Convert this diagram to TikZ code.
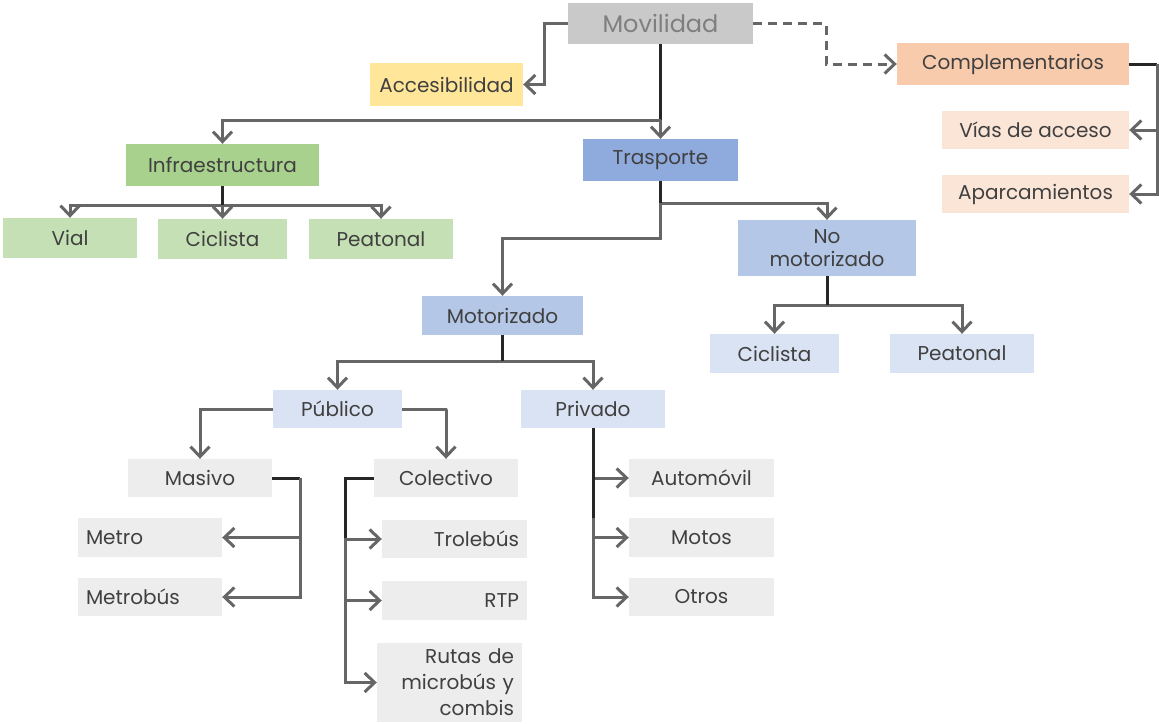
\documentclass[tikz,border=0pt]{standalone}
\usepackage{fontspec}
\setmainfont{Poppins}
\usetikzlibrary{arrows.meta}

\definecolor{movfill}{HTML}{C9C9C9}
\definecolor{movtext}{HTML}{7F7F7F}
\definecolor{accfill}{HTML}{FFE699}
\definecolor{compfill}{HTML}{F8CBAD}
\definecolor{compsub}{HTML}{FBE5D6}
\definecolor{infrafill}{HTML}{A9D18E}
\definecolor{infrasub}{HTML}{C5E0B4}
\definecolor{trasfill}{HTML}{8FAADC}
\definecolor{midblue}{HTML}{B4C7E7}
\definecolor{lightblue}{HTML}{DAE3F3}
\definecolor{lightgray}{HTML}{EDEDED}
\definecolor{linegray}{HTML}{666666}
\definecolor{darkline}{HTML}{262626}
\definecolor{txtgray}{HTML}{404040}

\begin{document}
\begin{tikzpicture}[x=1pt, y=-1pt,
  box/.style={inner sep=0pt, align=center, text=txtgray,
              font=\fontsize{20}{24}\selectfont},
  lbox/.style={box, inner xsep=8pt, text width=128pt, align=left},
  rbox/.style={box, inner xsep=8pt, text width=129pt, align=right},
  arr/.style={-{Straight Barb[length=10pt, width=19pt, line width=3pt]},
              line width=3pt, draw=linegray},
  dline/.style={line width=3pt, draw=darkline}
]
\useasboundingbox (0,0) rectangle (1159,723);

% Top level
\node[box, fill=movfill, text=movtext, minimum width=185pt, minimum height=41pt,
      font=\fontsize{24}{28}\selectfont] at (660.5,23.5) (mov) {Movilidad};
\node[box, fill=accfill, minimum width=153pt, minimum height=43pt] at (446.5,84.5) (acc) {Accesibilidad};
\node[box, fill=compfill, minimum width=232pt, minimum height=42pt] at (1013,64) (comp) {Complementarios};
\node[box, fill=compsub, minimum width=187pt, minimum height=38pt] at (1035.5,130) (vias) {Vías de acceso};
\node[box, fill=compsub, minimum width=187pt, minimum height=38pt] at (1035.5,194) (apar) {Aparcamientos};

% Infraestructura
\node[box, fill=infrafill, minimum width=193pt, minimum height=42pt] at (222.5,165) (infra) {Infraestructura};
\node[box, fill=infrasub, minimum width=134pt, minimum height=40pt] at (70,238) (vial) {Vial};
\node[box, fill=infrasub, minimum width=129pt, minimum height=40pt] at (222.5,239) (cicinf) {Ciclista};
\node[box, fill=infrasub, minimum width=144pt, minimum height=40pt] at (381,239) (peainf) {Peatonal};

% Trasporte
\node[box, fill=trasfill, minimum width=155pt, minimum height=42pt] at (660.5,160) (tras) {Trasporte};
\node[box, fill=midblue, minimum width=178pt, minimum height=56pt,
      font=\fontsize{20}{23}\selectfont] at (827,248) (nomot) {No\\motorizado};
\node[box, fill=midblue, minimum width=161pt, minimum height=39pt] at (502.5,315.5) (mot) {Motorizado};
\node[box, fill=lightblue, minimum width=129pt, minimum height=39pt] at (774.5,353.5) (cicnm) {Ciclista};
\node[box, fill=lightblue, minimum width=144pt, minimum height=39pt] at (962,353.5) (peanm) {Peatonal};
\node[box, fill=lightblue, minimum width=129pt, minimum height=38pt] at (337.5,409) (pub) {Público};
\node[box, fill=lightblue, minimum width=144pt, minimum height=38pt] at (593,409) (priv) {Privado};

% Publico / Privado
\node[box, fill=lightgray, minimum width=144pt, minimum height=38pt] at (200,478) (mas) {Masivo};
\node[box, fill=lightgray, minimum width=144pt, minimum height=38pt] at (446,478) (col) {Colectivo};
\node[lbox, fill=lightgray, minimum height=39pt] at (150,537.5) (metro) {Metro};
\node[lbox, fill=lightgray, minimum height=38pt] at (150,597) (metrob) {Metrobús};
\node[rbox, fill=lightgray, minimum height=38pt] at (454.5,539) (trole) {Trolebús};
\node[rbox, fill=lightgray, minimum height=39pt] at (454.5,600.5) (rtp) {RTP};
\node[rbox, fill=lightgray, minimum height=79pt,
      font=\fontsize{20}{26}\selectfont] at (449.5,682.5) (rutas) {Rutas de\\microbús y\\combis};
\node[box, fill=lightgray, minimum width=145pt, minimum height=38pt] at (701.5,478) (auto) {Automóvil};
\node[box, fill=lightgray, minimum width=145pt, minimum height=39pt] at (701.5,537.5) (motos) {Motos};
\node[box, fill=lightgray, minimum width=145pt, minimum height=38pt] at (701.5,597) (otros) {Otros};

% Junctions
\coordinate (movj) at (660.5,120);
\coordinate (infj) at (222.5,205);
\coordinate (trj)  at (660.5,203);
\coordinate (nmj)  at (827,305);
\coordinate (motj) at (502.5,361);

% Arrows
\draw[arr] (mov.west) -- ++(-23,0) |- (acc.east);
\draw[arr, dash pattern=on 9pt off 6pt] (mov.east) -- ++(73,0) |- (comp.west);
\draw[dline] (mov.south) -- (movj);
\draw[arr] (movj) -- (tras.north);
\draw[arr] (movj) -| (infra.north);

\draw[dline] (comp.east) -- ++(28,0) coordinate (compj);
\draw[arr] (compj) |- (vias.east);
\draw[arr] (compj) |- (apar.east);

\draw[arr] (infj) -| (vial.north);
\draw[arr] (infj) -- (cicinf.north);
\draw[arr] (infj) -| (peainf.north);
\draw[dline] (infra.south) -- (infj);

\draw[arr] (trj) -| (nomot.north);
\draw[arr] (trj) -- ++(0,35) -| (mot.north);
\draw[dline] (tras.south) -- (trj);

\draw[arr] (nmj) -| (cicnm.north);
\draw[arr] (nmj) -| (peanm.north);
\draw[dline] (nomot.south) -- (nmj);

\draw[arr] (motj) -| (pub.north);
\draw[arr] (motj) -| (priv.north);
\draw[dline] (mot.south) -- (motj);

\draw[arr] (pub.west) -| (mas.north);
\draw[arr] (pub.east) -- ++(45,0) -| (col.north);

\draw[dline] (mas.east) -- ++(28,0) coordinate (masj);
\draw[arr] (masj) |- (metro.east);
\draw[arr] (masj) |- (metrob.east);

\draw[arr] (col.west) -- ++(-28,0) coordinate (colj) |- (rutas.west);
\draw[arr] (colj) |- (trole.west);
\draw[arr] (colj) |- (rtp.west);
\draw[dline] (col.west) -- (colj) -- ++(0,60);

\draw[arr] (priv.south) |- (auto.west);
\draw[arr] (priv.south) |- (motos.west);
\draw[arr] (priv.south) |- (otros.west);
\draw[dline] (priv.south) -- ++(0,90);

\end{tikzpicture}
\end{document}
